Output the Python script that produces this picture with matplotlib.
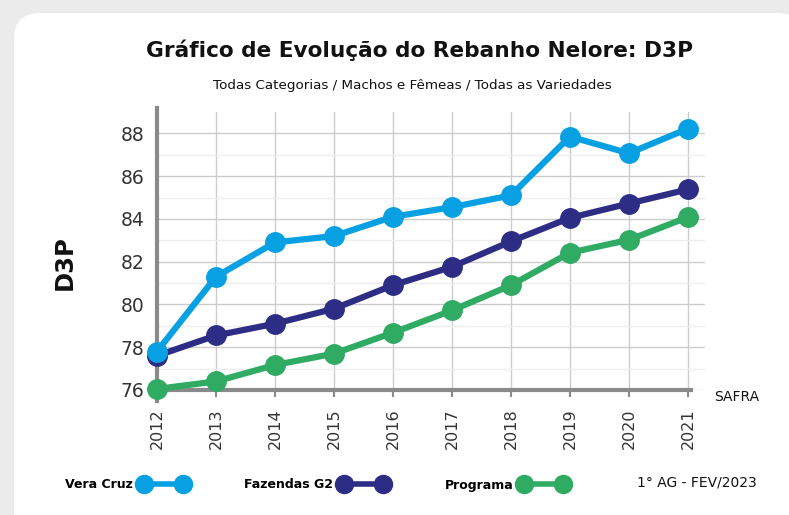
import matplotlib
matplotlib.use("Agg")
import matplotlib.pyplot as plt
from matplotlib.patches import FancyBboxPatch
from matplotlib.lines import Line2D

years = [2012, 2013, 2014, 2015, 2016, 2017, 2018, 2019, 2020, 2021]
vera_cruz = [77.8, 81.3, 82.9, 83.2, 84.1, 84.55, 85.1, 87.85, 87.07, 88.22]
fazendas_g2 = [77.6, 78.55, 79.1, 79.8, 80.9, 81.76, 82.95, 84.05, 84.72, 85.38]
programa = [76.05, 76.4, 77.17, 77.7, 78.68, 79.72, 80.9, 82.42, 83.02, 84.08]

series = [
    ("Programa", programa, "#2fab63"),
    ("Fazendas G2", fazendas_g2, "#2e2d86"),
    ("Vera Cruz", vera_cruz, "#07a0e2"),
]
legend_order = ["Vera Cruz", "Fazendas G2", "Programa"]

W, H = 789, 515
fig = plt.figure(figsize=(W / 100, H / 100), dpi=100)
fig.patch.set_facecolor("#ebebeb")

# white rounded card behind everything
bg = fig.add_axes([0, 0, 1, 1], zorder=-10)
bg.set_xlim(0, W)
bg.set_ylim(H, 0)
bg.axis("off")
bg.add_patch(FancyBboxPatch((14, 13), 790, 540,
                            boxstyle="round,pad=0,rounding_size=26",
                            facecolor="white", edgecolor="none"))

ax = fig.add_axes([157 / W, 1 - 390 / H, (705 - 157) / W, (390 - 112) / H])
ax.set_facecolor("none")

for name, vals, color in series:
    ax.plot(years, vals, color=color, lw=4.5, marker="o", markersize=14,
            solid_capstyle="round", label=name, zorder=3, clip_on=False)

ax.set_xlim(2012, 2021.29)
ax.set_ylim(76, 89)
ax.set_yticks(range(76, 89, 2))
ax.set_yticks(range(77, 89, 2), minor=True)
ax.set_xticks(years)
ax.set_xticklabels([str(y) for y in years], rotation=90)

ax.grid(axis="x", color="#cccccc", lw=1)
ax.grid(axis="y", which="major", color="#cccccc", lw=1)
ax.grid(axis="y", which="minor", color="#eeeeee", lw=1)
ax.set_axisbelow(True)

for s in ["top", "right"]:
    ax.spines[s].set_visible(False)
for s in ["left", "bottom"]:
    ax.spines[s].set_color("#8a8a8a")
    ax.spines[s].set_linewidth(3)
ax.spines["bottom"].set_bounds(2011.93, 2021.05)
ax.spines["left"].set_bounds(75.5, 89.2)

ax.tick_params(axis="y", which="both", length=0, labelsize=13.5, labelcolor="#333333", pad=9)
ax.tick_params(axis="x", length=5, width=1.5, color="#8a8a8a", labelsize=11.5,
               labelcolor="#333333", pad=8)

fig.text(420 / W, 1 - 50 / H, "Gráfico de Evolução do Rebanho Nelore: D3P",
         ha="center", va="center", fontsize=15.6, fontweight="bold", color="#111111")
fig.text(412 / W, 1 - 86 / H, "Todas Categorias / Machos e Fêmeas / Todas as Variedades",
         ha="center", va="center", fontsize=9.7, color="#111111")
fig.text(65 / W, 1 - 263 / H, "D3P", rotation=90, ha="center", va="center",
         fontsize=17.5, fontweight="bold", color="#111111")
fig.text(737 / W, 1 - 397 / H, "SAFRA", ha="center", va="center", fontsize=10,
         color="#111111")
fig.text(697 / W, 1 - 482 / H, "1° AG - FEV/2023", ha="center", va="center",
         fontsize=10, color="#111111")

colors = {n: c for n, _, c in series}
handles = [Line2D([0], [0], color=colors[n], lw=4, marker="o", markersize=13)
           for n in legend_order]
leg = fig.legend(handles, legend_order, loc="center", bbox_to_anchor=(316 / W, 1 - 485 / H),
                 ncol=3, frameon=False, markerfirst=False, numpoints=2,
                 handlelength=3.7, columnspacing=4.6, handletextpad=0.6,
                 prop={"weight": "bold", "size": 9})

fig.savefig("out.png", dpi=100, facecolor=fig.get_facecolor())
